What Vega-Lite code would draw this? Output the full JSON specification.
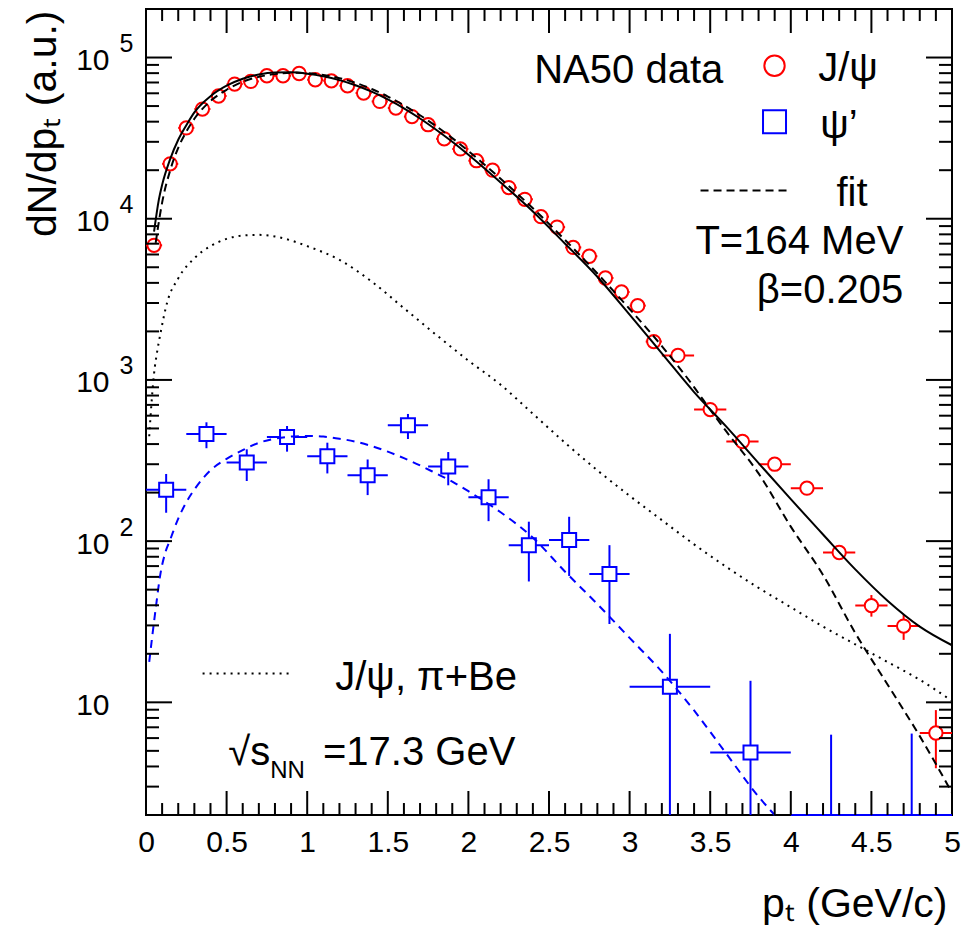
{
  "$schema": "https://vega.github.io/schema/vega-lite/v6.json",
  "width": 806,
  "height": 806,
  "autosize": {"type": "none"},
  "padding": {"left": 146, "top": 9, "right": 9, "bottom": 121},
  "background": "white",
  "config": {
    "view": {"stroke": "black", "strokeWidth": 2},
    "font": "Liberation Sans",
    "text": {"font": "Liberation Sans"},
    "axis": {"domain": false, "grid": false, "ticks": false, "labelColor": "black", "titleColor": "black", "labelFont": "Liberation Sans", "titleFont": "Liberation Sans", "labelFlush": false, "labelOverlap": false, "labelBound": false}
  },
  "datasets": {
    "bMaj": [{"v": 0.5}, {"v": 1}, {"v": 1.5}, {"v": 2}, {"v": 2.5}, {"v": 3}, {"v": 3.5}, {"v": 4}, {"v": 4.5}],
    "tMaj": [{"v": 0.5}, {"v": 1}, {"v": 1.5}, {"v": 2}, {"v": 2.5}, {"v": 3}, {"v": 3.5}, {"v": 4}, {"v": 4.5}],
    "bMin": [{"v": 0.1}, {"v": 0.2}, {"v": 0.3}, {"v": 0.4}, {"v": 0.6}, {"v": 0.7}, {"v": 0.8}, {"v": 0.9},
      {"v": 1.1}, {"v": 1.2}, {"v": 1.3}, {"v": 1.4}, {"v": 1.6}, {"v": 1.7}, {"v": 1.8}, {"v": 1.9},
      {"v": 2.1}, {"v": 2.2}, {"v": 2.3}, {"v": 2.4}, {"v": 2.6}, {"v": 2.7}, {"v": 2.8}, {"v": 2.9},
      {"v": 3.1}, {"v": 3.2}, {"v": 3.3}, {"v": 3.4}, {"v": 3.6}, {"v": 3.7}, {"v": 3.8}, {"v": 3.9},
      {"v": 4.1}, {"v": 4.2}, {"v": 4.3}, {"v": 4.4}, {"v": 4.6}, {"v": 4.7}, {"v": 4.8}, {"v": 4.9}],
    "tMin": [{"v": 0.1}, {"v": 0.2}, {"v": 0.3}, {"v": 0.4}, {"v": 0.6}, {"v": 0.7}, {"v": 0.8}, {"v": 0.9},
      {"v": 1.1}, {"v": 1.2}, {"v": 1.3}, {"v": 1.4}, {"v": 1.6}, {"v": 1.7}, {"v": 1.8}, {"v": 1.9},
      {"v": 2.1}, {"v": 2.2}, {"v": 2.3}, {"v": 2.4}, {"v": 2.6}, {"v": 2.7}, {"v": 2.8}, {"v": 2.9},
      {"v": 3.1}, {"v": 3.2}, {"v": 3.3}, {"v": 3.4}, {"v": 3.6}, {"v": 3.7}, {"v": 3.8}, {"v": 3.9},
      {"v": 4.1}, {"v": 4.2}, {"v": 4.3}, {"v": 4.4}, {"v": 4.6}, {"v": 4.7}, {"v": 4.8}, {"v": 4.9}],
    "lMaj": [{"v": 10}, {"v": 100}, {"v": 1000}, {"v": 10000}, {"v": 100000}],
    "rMaj": [{"v": 10}, {"v": 100}, {"v": 1000}, {"v": 10000}, {"v": 100000}],
    "lMin": [{"v": 3}, {"v": 4}, {"v": 5}, {"v": 6}, {"v": 7}, {"v": 8}, {"v": 9},
      {"v": 20}, {"v": 30}, {"v": 40}, {"v": 50}, {"v": 60}, {"v": 70}, {"v": 80}, {"v": 90},
      {"v": 200}, {"v": 300}, {"v": 400}, {"v": 500}, {"v": 600}, {"v": 700}, {"v": 800}, {"v": 900},
      {"v": 2000}, {"v": 3000}, {"v": 4000}, {"v": 5000}, {"v": 6000}, {"v": 7000}, {"v": 8000}, {"v": 9000},
      {"v": 20000}, {"v": 30000}, {"v": 40000}, {"v": 50000}, {"v": 60000}, {"v": 70000}, {"v": 80000}, {"v": 90000}],
    "rMin": [{"v": 3}, {"v": 4}, {"v": 5}, {"v": 6}, {"v": 7}, {"v": 8}, {"v": 9},
      {"v": 20}, {"v": 30}, {"v": 40}, {"v": 50}, {"v": 60}, {"v": 70}, {"v": 80}, {"v": 90},
      {"v": 200}, {"v": 300}, {"v": 400}, {"v": 500}, {"v": 600}, {"v": 700}, {"v": 800}, {"v": 900},
      {"v": 2000}, {"v": 3000}, {"v": 4000}, {"v": 5000}, {"v": 6000}, {"v": 7000}, {"v": 8000}, {"v": 9000},
      {"v": 20000}, {"v": 30000}, {"v": 40000}, {"v": 50000}, {"v": 60000}, {"v": 70000}, {"v": 80000}, {"v": 90000}],
    "jpsi": [
      {"pt": 0.05, "y": 6840, "xlo": 0.0, "xhi": 0.1, "ylo": 6840, "yhi": 6840},
      {"pt": 0.15, "y": 21900, "xlo": 0.1, "xhi": 0.2, "ylo": 21900, "yhi": 21900},
      {"pt": 0.25, "y": 36600, "xlo": 0.2, "xhi": 0.3, "ylo": 36600, "yhi": 36600},
      {"pt": 0.35, "y": 47900, "xlo": 0.3, "xhi": 0.4, "ylo": 47900, "yhi": 47900},
      {"pt": 0.45, "y": 57700, "xlo": 0.4, "xhi": 0.5, "ylo": 57700, "yhi": 57700},
      {"pt": 0.55, "y": 68400, "xlo": 0.5, "xhi": 0.6, "ylo": 68400, "yhi": 68400},
      {"pt": 0.65, "y": 71100, "xlo": 0.6, "xhi": 0.7, "ylo": 71100, "yhi": 71100},
      {"pt": 0.75, "y": 77100, "xlo": 0.7, "xhi": 0.8, "ylo": 77100, "yhi": 77100},
      {"pt": 0.85, "y": 77100, "xlo": 0.8, "xhi": 0.9, "ylo": 77100, "yhi": 77100},
      {"pt": 0.95, "y": 79600, "xlo": 0.9, "xhi": 1.0, "ylo": 79600, "yhi": 79600},
      {"pt": 1.05, "y": 72800, "xlo": 1.0, "xhi": 1.1, "ylo": 72800, "yhi": 72800},
      {"pt": 1.15, "y": 71700, "xlo": 1.1, "xhi": 1.2, "ylo": 71700, "yhi": 71700},
      {"pt": 1.25, "y": 66800, "xlo": 1.2, "xhi": 1.3, "ylo": 66800, "yhi": 66800},
      {"pt": 1.35, "y": 60200, "xlo": 1.3, "xhi": 1.4, "ylo": 60200, "yhi": 60200},
      {"pt": 1.45, "y": 53400, "xlo": 1.4, "xhi": 1.5, "ylo": 53400, "yhi": 53400},
      {"pt": 1.55, "y": 48600, "xlo": 1.5, "xhi": 1.6, "ylo": 48600, "yhi": 48600},
      {"pt": 1.65, "y": 43000, "xlo": 1.6, "xhi": 1.7, "ylo": 43000, "yhi": 43000},
      {"pt": 1.75, "y": 38300, "xlo": 1.7, "xhi": 1.8, "ylo": 38300, "yhi": 38300},
      {"pt": 1.85, "y": 31300, "xlo": 1.8, "xhi": 1.9, "ylo": 31300, "yhi": 31300},
      {"pt": 1.95, "y": 27100, "xlo": 1.9, "xhi": 2.0, "ylo": 27100, "yhi": 27100},
      {"pt": 2.05, "y": 22900, "xlo": 2.0, "xhi": 2.1, "ylo": 22900, "yhi": 22900},
      {"pt": 2.15, "y": 20000, "xlo": 2.1, "xhi": 2.2, "ylo": 20000, "yhi": 20000},
      {"pt": 2.25, "y": 15600, "xlo": 2.2, "xhi": 2.3, "ylo": 15600, "yhi": 15600},
      {"pt": 2.35, "y": 13200, "xlo": 2.3, "xhi": 2.4, "ylo": 13200, "yhi": 13200},
      {"pt": 2.45, "y": 10300, "xlo": 2.4, "xhi": 2.5, "ylo": 10300, "yhi": 10300},
      {"pt": 2.55, "y": 8870, "xlo": 2.5, "xhi": 2.6, "ylo": 8870, "yhi": 8870},
      {"pt": 2.65, "y": 6640, "xlo": 2.6, "xhi": 2.7, "ylo": 6640, "yhi": 6640},
      {"pt": 2.75, "y": 5850, "xlo": 2.7, "xhi": 2.8, "ylo": 5850, "yhi": 5850},
      {"pt": 2.85, "y": 4290, "xlo": 2.8, "xhi": 2.9, "ylo": 4290, "yhi": 4290},
      {"pt": 2.95, "y": 3510, "xlo": 2.9, "xhi": 3.0, "ylo": 3510, "yhi": 3510},
      {"pt": 3.05, "y": 2890, "xlo": 3.0, "xhi": 3.1, "ylo": 2890, "yhi": 2890},
      {"pt": 3.15, "y": 1730, "xlo": 3.1, "xhi": 3.2, "ylo": 1730, "yhi": 1730},
      {"pt": 3.3, "y": 1420, "xlo": 3.2, "xhi": 3.4, "ylo": 1420, "yhi": 1420},
      {"pt": 3.5, "y": 655, "xlo": 3.4, "xhi": 3.6, "ylo": 655, "yhi": 655},
      {"pt": 3.7, "y": 415, "xlo": 3.6, "xhi": 3.8, "ylo": 415, "yhi": 415},
      {"pt": 3.9, "y": 300, "xlo": 3.8, "xhi": 4.0, "ylo": 300, "yhi": 300},
      {"pt": 4.1, "y": 213, "xlo": 4.0, "xhi": 4.2, "ylo": 213, "yhi": 213},
      {"pt": 4.3, "y": 85, "xlo": 4.2, "xhi": 4.4, "ylo": 85, "yhi": 85},
      {"pt": 4.5, "y": 39.8, "xlo": 4.4, "xhi": 4.6, "ylo": 34.0, "yhi": 46.3},
      {"pt": 4.7, "y": 29.7, "xlo": 4.6, "xhi": 4.8, "ylo": 24.4, "yhi": 34.8},
      {"pt": 4.9, "y": 6.45, "xlo": 4.8, "xhi": 5.0, "ylo": 3.9, "yhi": 8.95}
    ],
    "psip": [
      {"pt": 0.125, "y": 208, "xlo": 0.0, "xhi": 0.25, "ylo": 150, "yhi": 261},
      {"pt": 0.375, "y": 462, "xlo": 0.25, "xhi": 0.5, "ylo": 377, "yhi": 546},
      {"pt": 0.625, "y": 307, "xlo": 0.5, "xhi": 0.75, "ylo": 236, "yhi": 371},
      {"pt": 0.875, "y": 443, "xlo": 0.75, "xhi": 1.0, "ylo": 359, "yhi": 518},
      {"pt": 1.125, "y": 336, "xlo": 1.0, "xhi": 1.25, "ylo": 263, "yhi": 408},
      {"pt": 1.375, "y": 256, "xlo": 1.25, "xhi": 1.5, "ylo": 193, "yhi": 321},
      {"pt": 1.625, "y": 523, "xlo": 1.5, "xhi": 1.75, "ylo": 430, "yhi": 615},
      {"pt": 1.875, "y": 290, "xlo": 1.75, "xhi": 2.0, "ylo": 222, "yhi": 357},
      {"pt": 2.125, "y": 187, "xlo": 2.0, "xhi": 2.25, "ylo": 133, "yhi": 242},
      {"pt": 2.375, "y": 94.4, "xlo": 2.25, "xhi": 2.5, "ylo": 56.2, "yhi": 132},
      {"pt": 2.625, "y": 101.6, "xlo": 2.5, "xhi": 2.75, "ylo": 60.8, "yhi": 141.6},
      {"pt": 2.875, "y": 62.5, "xlo": 2.75, "xhi": 3.0, "ylo": 30.6, "yhi": 94.4},
      {"pt": 3.25, "y": 12.5, "xlo": 3.0, "xhi": 3.5, "ylo": 1, "yhi": 26.6},
      {"pt": 3.75, "y": 4.88, "xlo": 3.5, "xhi": 4.0, "ylo": 1, "yhi": 13.6},
      {"pt": 4.25, "y": 1, "xlo": 4.0, "xhi": 4.5, "ylo": 1, "yhi": 6.3},
      {"pt": 4.75, "y": 1, "xlo": 4.5, "xhi": 5.0, "ylo": 1, "yhi": 6.4}
    ],
    "fitSolid": [
      {"pt": 0.05, "y": 8318}, {"pt": 0.08, "y": 13183}, {"pt": 0.1, "y": 16218}, {"pt": 0.15, "y": 23442},
      {"pt": 0.2, "y": 30903}, {"pt": 0.25, "y": 38019}, {"pt": 0.3, "y": 45709}, {"pt": 0.4, "y": 57544},
      {"pt": 0.5, "y": 66834}, {"pt": 0.6, "y": 73790}, {"pt": 0.7, "y": 78524}, {"pt": 0.8, "y": 80724},
      {"pt": 0.9, "y": 80910}, {"pt": 1.0, "y": 79433}, {"pt": 1.1, "y": 76560}, {"pt": 1.2, "y": 72444},
      {"pt": 1.3, "y": 67298}, {"pt": 1.4, "y": 61376}, {"pt": 1.5, "y": 54954}, {"pt": 1.6, "y": 48417},
      {"pt": 1.7, "y": 41879}, {"pt": 1.8, "y": 35645}, {"pt": 1.9, "y": 29992}, {"pt": 2.0, "y": 24946},
      {"pt": 2.2, "y": 16788}, {"pt": 2.4, "y": 11092}, {"pt": 2.6, "y": 6998}, {"pt": 2.8, "y": 4365},
      {"pt": 3.0, "y": 2541}, {"pt": 3.2, "y": 1462}, {"pt": 3.4, "y": 841}, {"pt": 3.6, "y": 513},
      {"pt": 3.8, "y": 305}, {"pt": 4.0, "y": 182}, {"pt": 4.2, "y": 110}, {"pt": 4.4, "y": 66.8},
      {"pt": 4.6, "y": 42.7}, {"pt": 4.8, "y": 29.5}, {"pt": 5.0, "y": 22.6}
    ],
    "fitDashed": [
      {"pt": 0.06, "y": 7079}, {"pt": 0.1, "y": 12589}, {"pt": 0.15, "y": 19953}, {"pt": 0.2, "y": 27542},
      {"pt": 0.25, "y": 34674}, {"pt": 0.3, "y": 41687}, {"pt": 0.4, "y": 53703}, {"pt": 0.5, "y": 63096},
      {"pt": 0.6, "y": 70795}, {"pt": 0.7, "y": 75858}, {"pt": 0.8, "y": 78886}, {"pt": 0.9, "y": 80353},
      {"pt": 1.0, "y": 79983}, {"pt": 1.1, "y": 77983}, {"pt": 1.2, "y": 74473}, {"pt": 1.3, "y": 69663},
      {"pt": 1.4, "y": 63826}, {"pt": 1.5, "y": 57280}, {"pt": 1.6, "y": 50466}, {"pt": 1.7, "y": 43853},
      {"pt": 1.8, "y": 37497}, {"pt": 1.9, "y": 31623}, {"pt": 2.0, "y": 26303}, {"pt": 2.2, "y": 17701},
      {"pt": 2.4, "y": 11614}, {"pt": 2.6, "y": 7379}, {"pt": 2.8, "y": 4571}, {"pt": 3.0, "y": 2754},
      {"pt": 3.2, "y": 1622}, {"pt": 3.4, "y": 902}, {"pt": 3.5, "y": 653}, {"pt": 3.6, "y": 479},
      {"pt": 3.8, "y": 263}, {"pt": 4.0, "y": 123}, {"pt": 4.2, "y": 61.7}, {"pt": 4.4, "y": 26.9},
      {"pt": 4.6, "y": 12.9}, {"pt": 4.8, "y": 6.17}, {"pt": 5.0, "y": 2.75}
    ],
    "piBe": [
      {"pt": 0.02, "y": 447}, {"pt": 0.03, "y": 631}, {"pt": 0.05, "y": 1096}, {"pt": 0.07, "y": 1514},
      {"pt": 0.09, "y": 1950}, {"pt": 0.13, "y": 2992}, {"pt": 0.2, "y": 4266}, {"pt": 0.3, "y": 5689},
      {"pt": 0.4, "y": 6761}, {"pt": 0.5, "y": 7499}, {"pt": 0.6, "y": 7870}, {"pt": 0.7, "y": 7943},
      {"pt": 0.8, "y": 7762}, {"pt": 0.9, "y": 7328}, {"pt": 1.0, "y": 6761}, {"pt": 1.2, "y": 5559},
      {"pt": 1.4, "y": 4074}, {"pt": 1.6, "y": 2786}, {"pt": 1.8, "y": 1905}, {"pt": 2.0, "y": 1318},
      {"pt": 2.2, "y": 933}, {"pt": 2.4, "y": 617}, {"pt": 2.6, "y": 407}, {"pt": 2.8, "y": 275},
      {"pt": 3.0, "y": 191}, {"pt": 3.2, "y": 135}, {"pt": 3.4, "y": 95.5}, {"pt": 3.6, "y": 69.2},
      {"pt": 3.8, "y": 51.3}, {"pt": 4.0, "y": 38.9}, {"pt": 4.2, "y": 29.5}, {"pt": 4.4, "y": 22.9},
      {"pt": 4.6, "y": 17.8}, {"pt": 4.8, "y": 13.8}, {"pt": 5.0, "y": 10.2}
    ],
    "psiFit": [
      {"pt": 0.02, "y": 17.8}, {"pt": 0.04, "y": 26.3}, {"pt": 0.06, "y": 38.0}, {"pt": 0.09, "y": 63.1},
      {"pt": 0.12, "y": 85.1}, {"pt": 0.15, "y": 102}, {"pt": 0.2, "y": 138}, {"pt": 0.25, "y": 174},
      {"pt": 0.3, "y": 209}, {"pt": 0.4, "y": 275}, {"pt": 0.5, "y": 324}, {"pt": 0.6, "y": 367},
      {"pt": 0.7, "y": 407}, {"pt": 0.8, "y": 432}, {"pt": 0.9, "y": 445}, {"pt": 1.0, "y": 449},
      {"pt": 1.1, "y": 445}, {"pt": 1.2, "y": 432}, {"pt": 1.3, "y": 414}, {"pt": 1.4, "y": 389},
      {"pt": 1.5, "y": 359}, {"pt": 1.6, "y": 327}, {"pt": 1.7, "y": 295}, {"pt": 1.8, "y": 263},
      {"pt": 1.9, "y": 234}, {"pt": 2.0, "y": 204}, {"pt": 2.2, "y": 151}, {"pt": 2.4, "y": 105},
      {"pt": 2.6, "y": 64.6}, {"pt": 2.8, "y": 40.7}, {"pt": 3.0, "y": 25.1}, {"pt": 3.2, "y": 15.5},
      {"pt": 3.4, "y": 8.9}, {"pt": 3.6, "y": 4.8}, {"pt": 3.8, "y": 2.6}, {"pt": 3.9, "y": 2.0}
    ],
    "legendFit": [{"x1": 3.44, "x2": 4.0, "y": 14940}],
    "legendPiBe": [{"x1": 0.351, "x2": 0.9, "y": 15.07}],
    "legendCircle": [{"pt": 3.899, "y": 88900}],
    "legendSquare": [{"pt": 3.899, "y": 39900}],
    "textRight": [
      {"pt": 3.581, "y": 69980, "label": "NA50 data"},
      {"pt": 4.698, "y": 6040, "label": "T=164 MeV"},
      {"pt": 4.698, "y": 2985, "label": "β=0.205"}
    ],
    "textLeft": [
      {"pt": 4.17, "y": 71600, "label": "J/ψ"},
      {"pt": 4.183, "y": 31500, "label": "ψ’"},
      {"pt": 4.283, "y": 12050, "label": "fit"},
      {"pt": 1.174, "y": 11.99, "label": "J/ψ, π+Be"},
      {"pt": 0.511, "y": 4.06, "label": "√s"},
      {"pt": 1.098, "y": 4.06, "label": "=17.3 GeV"}
    ],
    "textSub": [
      {"pt": 0.771, "y": 3.37, "label": "NN"}
    ]
  },
  "resolve": {"axis": {"x": "independent", "y": "independent"}},
  "layer": [
    {
      "data": {"name": "jpsi"},
      "mark": {"type": "rule", "color": "#ff0000", "strokeWidth": 2},
      "encoding": {
        "x": {"field": "xlo", "type": "quantitative", "scale": {"domain": [0, 5], "nice": false, "zero": false},
          "axis": {"orient": "bottom", "values": [0,0.5,1,1.5,2,2.5,3,3.5,4,4.5,5], "ticks": false,
            "labelExpr": "format(datum.value, '~g')", "labelFontSize": 30, "labelPadding": 12,
            "title": "pₜ (GeV/c)", "titleFontSize": 41, "titleFontWeight": "normal",
            "titleX": 801, "titleY": 101, "titleAlign": "right", "titleBaseline": "alphabetic", "titleAngle": 0}},
        "x2": {"field": "xhi"},
        "y": {"field": "y", "type": "quantitative", "scale": {"type": "log", "domain": [2, 200000], "nice": false, "clamp": true},
          "axis": {"orient": "left", "values": [10,100,1000,10000,100000], "ticks": false,
            "labelExpr": "'10'", "labelFontSize": 30, "labelPadding": 37, "labelOffset": 3, "labelBaseline": "middle",
            "title": "dN/dpₜ (a.u.)", "titleFontSize": 41, "titleFontWeight": "normal",
            "titleX": -91, "titleY": 1, "titleAlign": "right", "titleBaseline": "alphabetic", "titleAngle": -90}}
      }
    },
    {
      "data": {"name": "jpsi"},
      "mark": {"type": "rule", "color": "#ff0000", "strokeWidth": 2},
      "encoding": {
        "x": {"field": "pt", "type": "quantitative", "scale": {"domain": [0, 5], "nice": false, "zero": false}, "axis": null},
        "y": {"field": "ylo", "type": "quantitative", "scale": {"type": "log", "domain": [2, 200000], "nice": false, "clamp": true},
          "axis": {"orient": "left", "values": [100, 1000, 10000, 100000], "ticks": false,
            "labelExpr": "datum.value == 100 ? '2' : datum.value == 1000 ? '3' : datum.value == 10000 ? '4' : datum.value == 100000 ? '5' : ''",
            "labelFontSize": 25, "labelPadding": 13, "labelOffset": -14, "labelBaseline": "middle", "title": null}},
        "y2": {"field": "yhi"}
      }
    },
    {
      "data": {"name": "psip"},
      "mark": {"type": "rule", "color": "#0000ff", "strokeWidth": 2},
      "encoding": {
        "x": {"field": "xlo", "type": "quantitative", "scale": {"domain": [0, 5], "nice": false, "zero": false}, "axis": null},
        "x2": {"field": "xhi"},
        "y": {"field": "y", "type": "quantitative", "scale": {"type": "log", "domain": [2, 200000], "nice": false, "clamp": true}, "axis": null}
      }
    },
    {
      "data": {"name": "psip"},
      "mark": {"type": "rule", "color": "#0000ff", "strokeWidth": 2},
      "encoding": {
        "x": {"field": "pt", "type": "quantitative", "scale": {"domain": [0, 5], "nice": false, "zero": false}, "axis": null},
        "y": {"field": "ylo", "type": "quantitative", "scale": {"type": "log", "domain": [2, 200000], "nice": false, "clamp": true}, "axis": null},
        "y2": {"field": "yhi"}
      }
    },
    {
      "data": {"name": "jpsi"},
      "mark": {"type": "point", "shape": "circle", "filled": true, "fill": "white", "stroke": "#ff0000", "strokeWidth": 2, "size": 177, "opacity": 1},
      "encoding": {
        "x": {"field": "pt", "type": "quantitative", "scale": {"domain": [0, 5], "nice": false, "zero": false}, "axis": null},
        "y": {"field": "y", "type": "quantitative", "scale": {"type": "log", "domain": [2, 200000], "nice": false, "clamp": true}, "axis": null}
      }
    },
    {
      "data": {"name": "psip"},
      "transform": [{"filter": "datum.y >= 2"}],
      "mark": {"type": "point", "shape": "square", "filled": true, "fill": "white", "stroke": "#0000ff", "strokeWidth": 2, "size": 196, "opacity": 1},
      "encoding": {
        "x": {"field": "pt", "type": "quantitative", "scale": {"domain": [0, 5], "nice": false, "zero": false}, "axis": null},
        "y": {"field": "y", "type": "quantitative", "scale": {"type": "log", "domain": [2, 200000], "nice": false, "clamp": true}, "axis": null}
      }
    },
    {
      "data": {"name": "fitSolid"},
      "mark": {"type": "line", "color": "black", "strokeWidth": 2, "interpolate": "monotone"},
      "encoding": {
        "x": {"field": "pt", "type": "quantitative", "scale": {"domain": [0, 5], "nice": false, "zero": false}, "axis": null},
        "y": {"field": "y", "type": "quantitative", "scale": {"type": "log", "domain": [2, 200000], "nice": false, "clamp": true}, "axis": null}
      }
    },
    {
      "data": {"name": "fitDashed"},
      "mark": {"type": "line", "color": "black", "strokeWidth": 2, "strokeDash": [8, 5], "interpolate": "monotone"},
      "encoding": {
        "x": {"field": "pt", "type": "quantitative", "scale": {"domain": [0, 5], "nice": false, "zero": false}, "axis": null},
        "y": {"field": "y", "type": "quantitative", "scale": {"type": "log", "domain": [2, 200000], "nice": false, "clamp": true}, "axis": null}
      }
    },
    {
      "data": {"name": "piBe"},
      "mark": {"type": "line", "color": "black", "strokeWidth": 2, "strokeDash": [2, 5], "interpolate": "monotone"},
      "encoding": {
        "x": {"field": "pt", "type": "quantitative", "scale": {"domain": [0, 5], "nice": false, "zero": false}, "axis": null},
        "y": {"field": "y", "type": "quantitative", "scale": {"type": "log", "domain": [2, 200000], "nice": false, "clamp": true}, "axis": null}
      }
    },
    {
      "data": {"name": "psiFit"},
      "mark": {"type": "line", "color": "#0000ff", "strokeWidth": 2, "strokeDash": [8, 6], "interpolate": "monotone"},
      "encoding": {
        "x": {"field": "pt", "type": "quantitative", "scale": {"domain": [0, 5], "nice": false, "zero": false}, "axis": null},
        "y": {"field": "y", "type": "quantitative", "scale": {"type": "log", "domain": [2, 200000], "nice": false, "clamp": true}, "axis": null}
      }
    },
    {
      "data": {"name": "bMaj"},
      "mark": {"type": "tick", "orient": "vertical", "color": "#000000", "thickness": 2, "size": 24, "opacity": 1},
      "encoding": {
        "x": {"field": "v", "type": "quantitative", "scale": {"domain": [0, 5], "nice": false, "zero": false}, "axis": null},
        "y": {"datum": 2.374, "type": "quantitative", "scale": {"type": "log", "domain": [2, 200000], "nice": false, "clamp": true}, "axis": null}
      }
    },
    {
      "data": {"name": "tMaj"},
      "mark": {"type": "tick", "orient": "vertical", "color": "#000000", "thickness": 2, "size": 24, "opacity": 1},
      "encoding": {
        "x": {"field": "v", "type": "quantitative", "scale": {"domain": [0, 5], "nice": false, "zero": false}, "axis": null},
        "y": {"datum": 168500, "type": "quantitative", "scale": {"type": "log", "domain": [2, 200000], "nice": false, "clamp": true}, "axis": null}
      }
    },
    {
      "data": {"name": "bMin"},
      "mark": {"type": "tick", "orient": "vertical", "color": "#000000", "thickness": 2, "size": 12, "opacity": 1},
      "encoding": {
        "x": {"field": "v", "type": "quantitative", "scale": {"domain": [0, 5], "nice": false, "zero": false}, "axis": null},
        "y": {"datum": 2.178, "type": "quantitative", "scale": {"type": "log", "domain": [2, 200000], "nice": false, "clamp": true}, "axis": null}
      }
    },
    {
      "data": {"name": "tMin"},
      "mark": {"type": "tick", "orient": "vertical", "color": "#000000", "thickness": 2, "size": 12, "opacity": 1},
      "encoding": {
        "x": {"field": "v", "type": "quantitative", "scale": {"domain": [0, 5], "nice": false, "zero": false}, "axis": null},
        "y": {"datum": 183570, "type": "quantitative", "scale": {"type": "log", "domain": [2, 200000], "nice": false, "clamp": true}, "axis": null}
      }
    },
    {
      "data": {"name": "lMaj"},
      "mark": {"type": "tick", "orient": "horizontal", "color": "#000000", "thickness": 2, "size": 26, "opacity": 1},
      "encoding": {
        "x": {"datum": 0.0806, "type": "quantitative", "scale": {"domain": [0, 5], "nice": false, "zero": false}, "axis": null},
        "y": {"field": "v", "type": "quantitative", "scale": {"type": "log", "domain": [2, 200000], "nice": false, "clamp": true}, "axis": null}
      }
    },
    {
      "data": {"name": "rMaj"},
      "mark": {"type": "tick", "orient": "horizontal", "color": "#000000", "thickness": 2, "size": 26, "opacity": 1},
      "encoding": {
        "x": {"datum": 4.9194, "type": "quantitative", "scale": {"domain": [0, 5], "nice": false, "zero": false}, "axis": null},
        "y": {"field": "v", "type": "quantitative", "scale": {"type": "log", "domain": [2, 200000], "nice": false, "clamp": true}, "axis": null}
      }
    },
    {
      "data": {"name": "lMin"},
      "mark": {"type": "tick", "orient": "horizontal", "color": "#000000", "thickness": 2, "size": 13, "opacity": 1},
      "encoding": {
        "x": {"datum": 0.0403, "type": "quantitative", "scale": {"domain": [0, 5], "nice": false, "zero": false}, "axis": null},
        "y": {"field": "v", "type": "quantitative", "scale": {"type": "log", "domain": [2, 200000], "nice": false, "clamp": true}, "axis": null}
      }
    },
    {
      "data": {"name": "rMin"},
      "mark": {"type": "tick", "orient": "horizontal", "color": "#000000", "thickness": 2, "size": 13, "opacity": 1},
      "encoding": {
        "x": {"datum": 4.9597, "type": "quantitative", "scale": {"domain": [0, 5], "nice": false, "zero": false}, "axis": null},
        "y": {"field": "v", "type": "quantitative", "scale": {"type": "log", "domain": [2, 200000], "nice": false, "clamp": true}, "axis": null}
      }
    },
    {
      "data": {"name": "legendFit"},
      "mark": {"type": "rule", "color": "black", "strokeWidth": 2, "strokeDash": [8, 5]},
      "encoding": {
        "x": {"field": "x1", "type": "quantitative", "scale": {"domain": [0, 5], "nice": false, "zero": false}, "axis": null},
        "x2": {"field": "x2"},
        "y": {"field": "y", "type": "quantitative", "scale": {"type": "log", "domain": [2, 200000], "nice": false, "clamp": true}, "axis": null}
      }
    },
    {
      "data": {"name": "legendPiBe"},
      "mark": {"type": "rule", "color": "black", "strokeWidth": 2, "strokeDash": [2, 5]},
      "encoding": {
        "x": {"field": "x1", "type": "quantitative", "scale": {"domain": [0, 5], "nice": false, "zero": false}, "axis": null},
        "x2": {"field": "x2"},
        "y": {"field": "y", "type": "quantitative", "scale": {"type": "log", "domain": [2, 200000], "nice": false, "clamp": true}, "axis": null}
      }
    },
    {
      "data": {"name": "legendCircle"},
      "mark": {"type": "point", "shape": "circle", "filled": false, "stroke": "#ff0000", "strokeWidth": 2, "size": 415, "opacity": 1},
      "encoding": {
        "x": {"field": "pt", "type": "quantitative", "scale": {"domain": [0, 5], "nice": false, "zero": false}, "axis": null},
        "y": {"field": "y", "type": "quantitative", "scale": {"type": "log", "domain": [2, 200000], "nice": false, "clamp": true}, "axis": null}
      }
    },
    {
      "data": {"name": "legendSquare"},
      "mark": {"type": "point", "shape": "square", "filled": false, "stroke": "#0000ff", "strokeWidth": 2, "size": 529, "opacity": 1},
      "encoding": {
        "x": {"field": "pt", "type": "quantitative", "scale": {"domain": [0, 5], "nice": false, "zero": false}, "axis": null},
        "y": {"field": "y", "type": "quantitative", "scale": {"type": "log", "domain": [2, 200000], "nice": false, "clamp": true}, "axis": null}
      }
    },
    {
      "data": {"name": "textRight"},
      "mark": {"type": "text", "align": "right", "baseline": "alphabetic", "font": "Liberation Sans", "fontSize": 40, "color": "black"},
      "encoding": {
        "x": {"field": "pt", "type": "quantitative", "scale": {"domain": [0, 5], "nice": false, "zero": false}, "axis": null},
        "y": {"field": "y", "type": "quantitative", "scale": {"type": "log", "domain": [2, 200000], "nice": false, "clamp": true}, "axis": null},
        "text": {"field": "label"}
      }
    },
    {
      "data": {"name": "textLeft"},
      "mark": {"type": "text", "align": "left", "baseline": "alphabetic", "font": "Liberation Sans", "fontSize": 40, "color": "black"},
      "encoding": {
        "x": {"field": "pt", "type": "quantitative", "scale": {"domain": [0, 5], "nice": false, "zero": false}, "axis": null},
        "y": {"field": "y", "type": "quantitative", "scale": {"type": "log", "domain": [2, 200000], "nice": false, "clamp": true}, "axis": null},
        "text": {"field": "label"}
      }
    },
    {
      "data": {"name": "textSub"},
      "mark": {"type": "text", "align": "left", "baseline": "alphabetic", "font": "Liberation Sans", "fontSize": 24, "color": "black"},
      "encoding": {
        "x": {"field": "pt", "type": "quantitative", "scale": {"domain": [0, 5], "nice": false, "zero": false}, "axis": null},
        "y": {"field": "y", "type": "quantitative", "scale": {"type": "log", "domain": [2, 200000], "nice": false, "clamp": true}, "axis": null},
        "text": {"field": "label"}
      }
    }
  ]
}
